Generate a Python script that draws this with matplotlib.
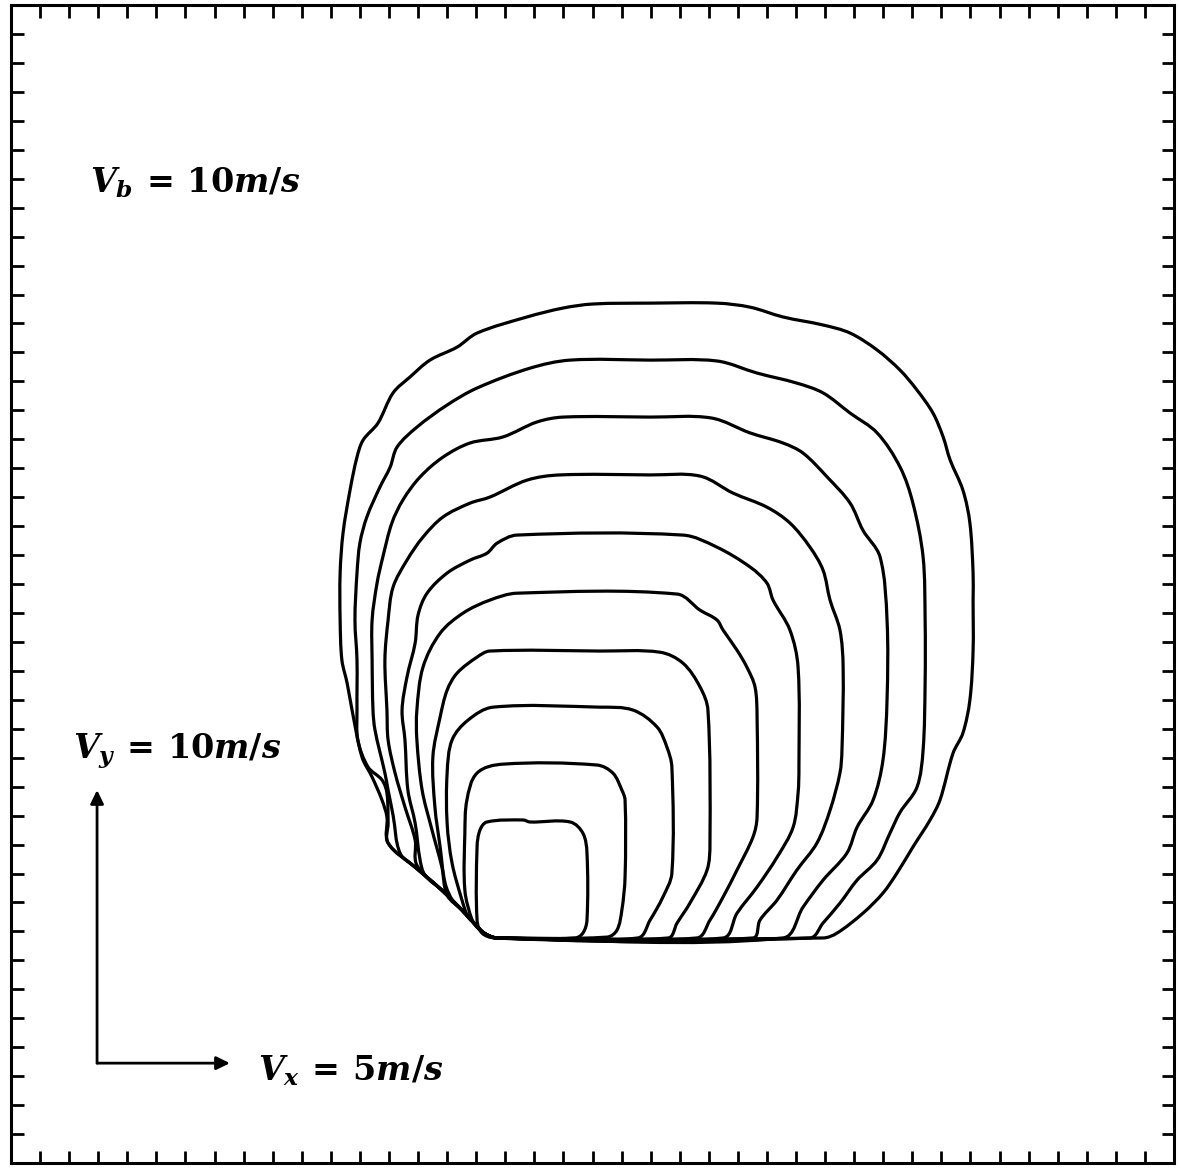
import numpy as np
import matplotlib
matplotlib.use("Agg")
import matplotlib.pyplot as plt
from matplotlib.path import Path
from matplotlib.patches import PathPatch

# Successive front outlines (grid cells), outermost first.
FRONT_01 = [(16.72, 7.65), (27.93, 7.65), (28.41, 7.82), (29.30, 8.51), (29.99, 9.21), (30.47, 9.90),
            (31.02, 10.81), (31.61, 11.75), (31.95, 12.44), (32.40, 14.07), (32.74, 14.77), (32.98, 15.92),
            (33.09, 17.65), (33.09, 19.39), (33.09, 20.33), (32.98, 22.07), (32.74, 23.21), (32.30, 24.26),
            (32.06, 25.06), (31.71, 25.89), (31.16, 26.69), (30.58, 27.38), (29.79, 28.08), (28.86, 28.67),
            (27.93, 28.95), (26.55, 29.23), (25.42, 29.57), (24.28, 29.71), (21.98, 29.71), (20.02, 29.68),
            (18.99, 29.54), (17.75, 29.23), (16.03, 28.67), (15.34, 28.18), (14.41, 27.73), (13.72, 27.14),
            (13.14, 26.59), (12.62, 25.54), (12.11, 24.95), (11.90, 24.36), (11.66, 23.21), (11.42, 21.72),
            (11.32, 20.33), (11.32, 18.70), (11.38, 17.31), (11.56, 16.51), (11.73, 15.57), (12.07, 13.94),
            (12.42, 13.24), (12.76, 12.44), (12.93, 11.85), (12.97, 10.95), (13.90, 10.11), (14.82, 9.31),
            (15.51, 8.62), (15.96, 8.13), (16.27, 7.82)]

FRONT_02 = [(16.72, 7.65), (27.48, 7.65), (27.93, 8.17), (28.51, 8.86), (29.10, 9.66), (29.79, 10.36),
            (30.23, 11.29), (30.58, 12.02), (31.16, 12.89), (31.37, 14.18), (31.44, 16.51), (31.44, 18.70),
            (31.37, 20.89), (31.02, 22.76), (30.58, 24.01), (29.79, 25.20), (28.86, 25.89), (27.93, 26.59),
            (27.03, 26.93), (25.66, 27.28), (24.28, 27.70), (21.98, 27.73), (19.23, 27.73), (17.85, 27.45),
            (16.03, 26.76), (15.00, 26.17), (13.96, 25.40), (13.28, 24.71), (13.04, 24.01), (12.69, 23.32),
            (12.24, 22.28), (12.00, 21.37), (11.90, 20.33), (11.83, 18.70), (11.90, 17.31), (11.90, 15.57),
            (11.93, 14.53), (12.28, 13.59), (12.76, 13.14), (12.93, 12.68), (12.97, 11.64), (12.97, 10.95),
            (13.90, 10.11), (14.82, 9.31), (15.51, 8.62), (15.96, 8.13), (16.27, 7.82)]

FRONT_03 = [(16.72, 7.65), (26.55, 7.65), (27.24, 8.72), (27.93, 9.66), (28.75, 10.60), (29.10, 11.50),
            (29.65, 12.44), (29.99, 13.83), (30.13, 15.92), (30.13, 18.70), (29.89, 20.89), (29.30, 21.82),
            (28.86, 22.76), (28.07, 23.67), (27.24, 24.50), (26.55, 24.85), (25.42, 25.20), (24.08, 25.72),
            (21.98, 25.75), (18.99, 25.75), (18.09, 25.58), (16.92, 25.06), (15.79, 24.85), (14.86, 24.36),
            (14.07, 23.67), (13.48, 22.87), (13.10, 22.07), (12.79, 20.89), (12.59, 19.98), (12.42, 18.70),
            (12.42, 17.31), (12.45, 15.57), (12.52, 14.87), (12.86, 13.38), (12.97, 12.79), (13.14, 11.92),
            (13.38, 10.60), (13.90, 10.11), (14.82, 9.31), (15.51, 8.62), (15.96, 8.13), (16.27, 7.82)]

FRONT_04 = [(16.72, 7.65), (25.52, 7.65), (25.76, 8.27), (26.35, 8.97), (27.03, 10.01), (27.72, 10.95),
            (28.17, 12.09), (28.51, 13.38), (28.58, 14.18), (28.62, 17.06), (28.51, 18.35), (28.17, 19.39),
            (27.93, 20.43), (27.48, 21.23), (26.79, 22.07), (26.00, 22.62), (24.83, 23.11), (23.70, 23.70),
            (21.98, 23.74), (18.88, 23.74), (17.75, 23.56), (16.47, 22.97), (15.79, 22.76), (14.86, 22.28),
            (14.17, 21.58), (13.62, 20.78), (13.14, 19.84), (12.97, 18.70), (12.86, 17.31), (12.93, 15.57),
            (12.97, 14.53), (13.21, 13.38), (13.55, 12.20), (13.90, 11.05), (13.96, 10.18), (14.82, 9.31),
            (15.51, 8.62), (15.96, 8.13), (16.27, 7.82)]

FRONT_05 = [(16.72, 7.65), (24.49, 7.65), (24.97, 8.51), (25.66, 9.42), (26.35, 10.46), (26.90, 11.50),
            (27.07, 12.68), (27.10, 13.59), (27.07, 17.06), (26.79, 18.35), (26.21, 19.39), (26.00, 19.98),
            (25.42, 20.54), (24.28, 21.23), (23.11, 21.65), (17.40, 21.65), (16.72, 21.37), (16.37, 21.02),
            (15.79, 20.78), (15.00, 20.33), (14.31, 19.63), (14.00, 18.87), (13.90, 17.90), (13.62, 16.72),
            (13.45, 15.57), (13.55, 14.53), (13.65, 12.79), (13.90, 11.64), (14.07, 10.36), (14.24, 9.83),
            (14.82, 9.31), (15.51, 8.62), (15.96, 8.13), (16.27, 7.82)]

FRONT_06 = [(16.72, 7.65), (23.59, 7.65), (24.04, 8.27), (24.49, 9.07), (24.97, 10.01), (25.52, 11.16),
            (25.66, 11.85), (25.66, 15.33), (25.59, 16.37), (25.31, 17.06), (24.97, 17.65), (24.49, 18.35),
            (24.28, 18.70), (23.70, 19.04), (22.91, 19.60), (17.40, 19.63), (16.47, 19.39), (15.55, 18.94),
            (14.76, 18.24), (14.17, 17.06), (13.96, 15.57), (13.96, 14.53), (14.14, 12.79), (14.48, 11.40),
            (14.82, 10.11), (15.00, 9.14), (15.51, 8.62), (15.96, 8.13), (16.27, 7.82)]

FRONT_07 = [(16.72, 7.65), (22.60, 7.65), (22.91, 8.17), (23.35, 8.86), (23.94, 10.01), (24.04, 10.95),
            (23.97, 15.57), (23.70, 16.37), (23.11, 17.20), (22.32, 17.58), (20.26, 17.62), (16.47, 17.62),
            (16.03, 17.41), (15.34, 16.85), (15.00, 16.26), (14.76, 15.33), (14.51, 13.94), (14.58, 12.20),
            (14.76, 10.81), (14.93, 9.56), (15.20, 8.93), (15.51, 8.62), (15.96, 8.13), (16.27, 7.82)]

FRONT_08 = [(16.72, 7.65), (21.56, 7.65), (21.98, 8.27), (22.42, 9.07), (22.73, 9.90), (22.73, 13.59),
            (22.56, 14.28), (22.22, 14.98), (21.39, 15.57), (20.26, 15.67), (16.58, 15.67), (15.72, 15.22),
            (15.17, 14.53), (15.00, 13.38), (15.00, 11.64), (15.17, 10.25), (15.51, 8.97), (15.72, 8.38),
            (15.96, 8.13), (16.27, 7.82)]

FRONT_09 = [(16.72, 7.65), (20.50, 7.68), (20.84, 7.92), (21.01, 8.62), (21.12, 9.77), (21.12, 12.44),
            (21.01, 12.79), (20.70, 13.38), (20.15, 13.66), (16.92, 13.69), (16.03, 13.38), (15.68, 12.44),
            (15.61, 11.29), (15.61, 9.31), (15.86, 8.27), (16.06, 7.99), (16.41, 7.71)]

FRONT_10 = [(16.65, 7.65), (19.40, 7.65), (19.67, 7.82), (19.81, 8.27), (19.81, 10.60), (19.67, 11.29),
            (19.23, 11.68), (17.85, 11.68), (17.61, 11.75), (16.37, 11.68), (16.13, 11.40), (16.03, 10.81),
            (16.03, 8.27), (16.20, 7.82)]

FRONTS = [FRONT_01, FRONT_02, FRONT_03, FRONT_04, FRONT_05,
          FRONT_06, FRONT_07, FRONT_08, FRONT_09, FRONT_10]

# Velocity scale arrows
ARROW_ORIGIN = (2.96, 3.30)
VX_LENGTH = 4.57   # drawn length for Vx = 5 m/s
VY_LENGTH = 9.49   # drawn length for Vy = 10 m/s

LABEL_VB = r"$V_b\,=\,10m/s$"
LABEL_VY = r"$V_y\,=\,10m/s$"
LABEL_VX = r"$V_x\,=\,5m/s$"

XLIM = (0.0, 40.0)
YLIM = (-0.17, 40.07)
N_TICK_INTERVALS = 40

plt.rcParams["mathtext.fontset"] = "custom"
plt.rcParams["mathtext.it"] = "DejaVu Serif:italic:bold"
plt.rcParams["mathtext.rm"] = "DejaVu Serif:bold"
plt.rcParams["mathtext.bf"] = "DejaVu Serif:bold"


def closed_smooth_path(points):
    """Closed cubic Bezier path passing through every vertex of the outline."""
    p = np.asarray(points, dtype=float)
    n = len(p)
    tang = np.roll(p, -1, axis=0) - np.roll(p, 1, axis=0)
    tang /= np.linalg.norm(tang, axis=1, keepdims=True)
    verts = [p[0]]
    codes = [Path.MOVETO]
    for i in range(n):
        j = (i + 1) % n
        seg = np.linalg.norm(p[j] - p[i])
        verts += [p[i] + tang[i] * seg / 3.0, p[j] - tang[j] * seg / 3.0, p[j]]
        codes += [Path.CURVE4] * 3
    return Path(np.array(verts), codes)


fig = plt.figure(figsize=(11.8, 11.68), dpi=100)
ax = fig.add_axes([11 / 1180, (1168 - 1163) / 1168, 1163 / 1180, 1158 / 1168])
ax.set_xlim(*XLIM)
ax.set_ylim(*YLIM)

for front in FRONTS:
    ax.add_patch(PathPatch(closed_smooth_path(front), fill=False, edgecolor="black",
                           lw=2.3, joinstyle="round", capstyle="round"))

x0, y0 = ARROW_ORIGIN
head = dict(arrowstyle="-|>,head_length=0.45,head_width=0.22", color="black",
            lw=2.0, mutation_scale=18, shrinkA=0, shrinkB=0)
ax.annotate("", xy=(x0, y0 + VY_LENGTH), xytext=(x0, y0), arrowprops=head)
ax.annotate("", xy=(x0 + VX_LENGTH, y0), xytext=(x0, y0), arrowprops=head)

ax.text(2.72, 33.54, LABEL_VB, fontsize=24, ha="left", va="baseline")
ax.text(2.13, 13.90, LABEL_VY, fontsize=24, ha="left", va="baseline")
ax.text(8.50, 2.71, LABEL_VX, fontsize=24, ha="left", va="baseline")

ax.set_xticks(np.linspace(XLIM[0], XLIM[1], N_TICK_INTERVALS + 1)[1:-1])
ax.set_yticks(np.linspace(YLIM[0], YLIM[1], N_TICK_INTERVALS + 1)[1:-1])
ax.tick_params(direction="in", length=9, width=2.0, top=True, right=True,
               labelbottom=False, labelleft=False)
for spine in ax.spines.values():
    spine.set_linewidth(2.2)

fig.savefig("out.png", dpi=100, facecolor="white")
